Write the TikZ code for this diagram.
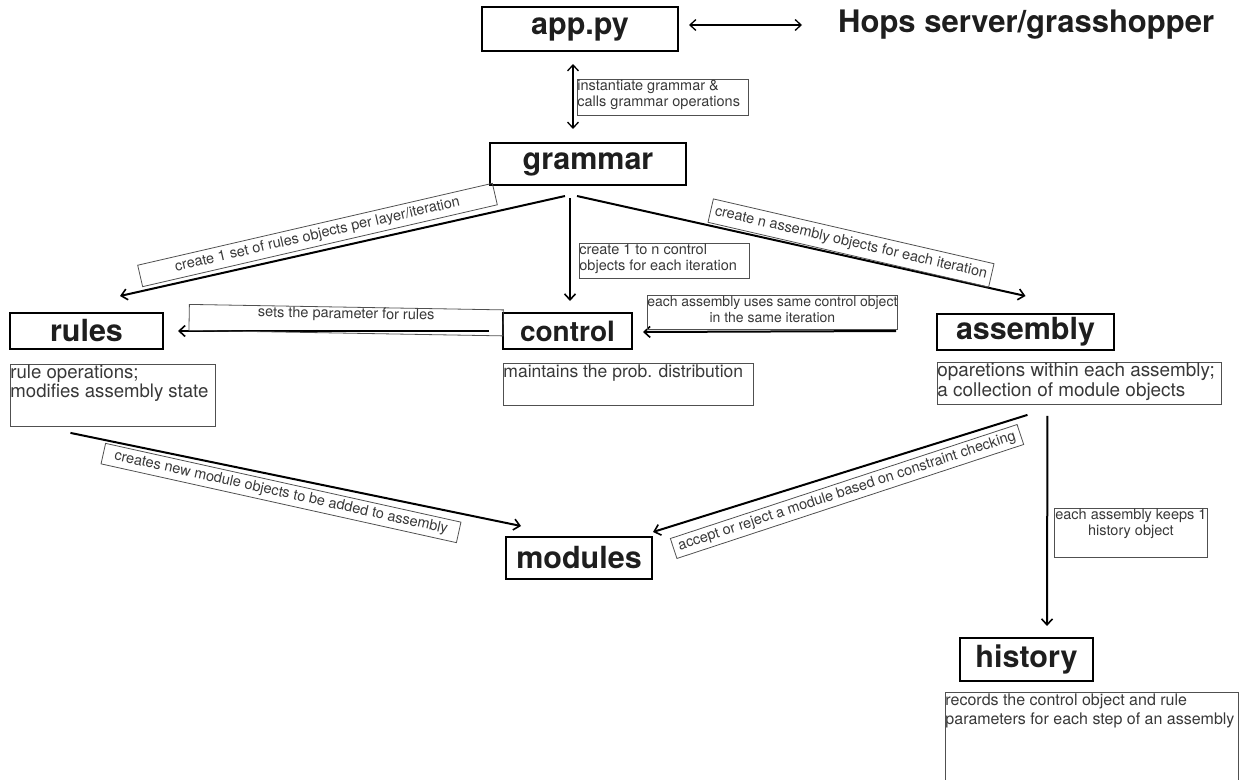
\documentclass[tikz,border=0pt]{standalone}
\usepackage{fontspec}
\setmainfont{TeX Gyre Heros}
\usetikzlibrary{arrows.meta}

\definecolor{titletext}{HTML}{1E1E1E}
\definecolor{labtext}{HTML}{383838}
\definecolor{labline}{HTML}{505050}

\tikzset{
  titlebox/.style={draw=black, line width=2pt, inner sep=0pt, text=titletext,
    font=\fontsize{30.5}{36}\selectfont\bfseries},
  descbox/.style={draw=labline, line width=0.9pt, inner sep=0pt, anchor=north west,
    text=labtext, font=\fontsize{17.5}{19.5}\selectfont},
  labbox/.style={draw=labline, line width=0.8pt, inner sep=0pt, text=labtext,
    font=\fontsize{14.5}{16}\selectfont},
  conn/.style={line width=2pt, -{Straight Barb[length=6pt,width=11pt,line width=1.6pt]}},
  twoway/.style={line width=1.3pt,
    {Straight Barb[length=6pt,width=11pt,line width=1.3pt]}-{Straight Barb[length=6pt,width=11pt,line width=1.3pt]}}
}

\begin{document}
\begin{tikzpicture}[x=1pt,y=-1pt]
\useasboundingbox (0,0) rectangle (1247,779);

% main component boxes
\node[titlebox, minimum width=196, minimum height=44] (app) at (580,29) {app.py};
\node[anchor=base west, inner sep=0pt, text=titletext,
      font=\fontsize{31}{36}\selectfont\bfseries] (hops) at (838,32) {Hops server/grasshopper};
\node[titlebox, minimum width=196, minimum height=42] (grammar) at (588,164) {grammar};
\node[titlebox, minimum width=153, minimum height=36] (rules) at (86.5,331) {rules};
\node[titlebox, minimum width=129, minimum height=36, font=\fontsize{28}{34}\selectfont\bfseries]
  (control) at (567.5,331) {control};
\node[titlebox, minimum width=177, minimum height=36] (assembly) at (1025.5,332) {assembly};
\node[titlebox, minimum width=146, minimum height=42] (modules) at (579,558) {modules};
\node[titlebox, minimum width=133, minimum height=43] (history) at (1026.5,659.5) {history};

% description boxes under the components
\node[descbox, font=\fontsize{18.6}{16.5}\selectfont] (rulesdesc) at (10,364)
  {\parbox[t][62pt][t]{205pt}{\strut rule operations;\\modifies assembly state}};
\node[descbox] (controldesc) at (503,363)
  {\parbox[t][42pt][t]{250pt}{\strut maintains the prob. distribution}};
\node[descbox, font=\fontsize{18.9}{20}\selectfont] (assemblydesc) at (937,362)
  {\parbox[t][42pt][t]{284pt}{\strut oparetions within each assembly;\\a collection of module objects}};
\node[descbox, font=\fontsize{16}{19}\selectfont] (historydesc) at (945,692)
  {\parbox[t][95pt][t]{293pt}{\strut records the control object and rule\\parameters for each step of an assembly}};

% connectors
\coordinate (hopsA) at ([shift={(10,-4)}]app.east);
\draw[twoway] (hopsA) -- ([xshift=-36pt]hopsA -| hops.west);
\draw[twoway, line width=1.6pt] ([shift={(-7,12)}]app.south) -- ([shift={(-15,-13)}]grammar.north);
\draw[conn] ([shift={(-23,10)}]grammar.south) -- ([shift={(33.5,-16)}]rules.north);
\draw[conn] ([shift={(-18,12)}]grammar.south) -- ([shift={(2.5,-11)}]control.north);
\draw[conn] ([shift={(-11,10)}]grammar.south) -- ([shift={(0,-17)}]assembly.north);
\draw[conn] ([shift={(-13,0)}]control.west) -- ([shift={(14,0)}]rules.east);
\draw[conn] ([shift={(-40,-1)}]assembly.west) -- ([shift={(10,1)}]control.east);
\draw[conn] ([shift={(-42.5,6)}]rulesdesc.south) -- ([shift={(16,-10)}]modules.north west);
\draw[conn] ([shift={(-52,10)}]assemblydesc.south) -- ([shift={(0,-4)}]modules.north east);
\draw[conn] ([shift={(-32,11)}]assemblydesc.south) -- ([shift={(20.5,-11)}]history.north);

% connector labels
\node[labbox, anchor=north west] (lapp) at (577,79)
  {\parbox[t][36pt][t]{171pt}{\strut instantiate grammar \&\\calls grammar operations}};
\node[labbox, rotate=13, minimum width=364, minimum height=22] (lrules) at (317.5,235)
  {create 1 set of rules objects per layer/iteration};
\node[labbox, anchor=north west] (lcontrol) at (579,243)
  {\parbox[t][35pt][t]{170pt}{\strut create 1 to n control\\objects for each iteration}};
\node[labbox, rotate=-13, minimum width=288, minimum height=24] (lassembly) at (851,243)
  {create n assembly objects for each iteration};
\node[labbox, rotate=-1, anchor=north west] (lparam) at (189,304)
  {\parbox[t][26pt][t]{314pt}{\centering\strut sets the parameter for rules}};
\node[labbox, anchor=north west, font=\fontsize{14}{16}\selectfont] (lsame) at (647,295)
  {\parbox[t][34pt][t]{250pt}{\centering\strut each assembly uses same control object\\in the same iteration}};
\node[labbox, rotate=-12.5, minimum width=364, minimum height=21] (lnew) at (281,493)
  {creates new module objects to be added to assembly};
\node[labbox, rotate=18.2, minimum width=365, minimum height=21] (laccept) at (847,491.5)
  {accept or reject a module based on constraint checking};
\node[labbox, anchor=north west] (lhist) at (1054,508)
  {\parbox[t][49pt][t]{153pt}{\centering\strut each assembly keeps 1\\history object}};
\end{tikzpicture}
\end{document}
